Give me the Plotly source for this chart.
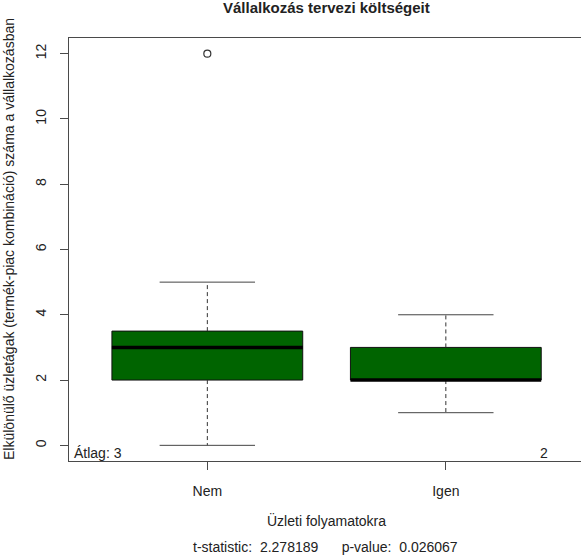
import plotly.graph_objects as go

# Box-plot summary statistics per group
groups = ["Nem", "Igen"]
positions = [1, 2]
q1 = [2, 2]
medians = [3, 2]
q3 = [3.5, 3]
lower_whisker = [0, 1]
upper_whisker = [5, 4]
outlier_pos = [1]
outlier_val = [12]
group_means = ["3", "2"]
y_ticks = [0, 2, 4, 6, 8, 10, 12]
t_stat = "2.278189"
p_value = "0.026067"

W, H = 581, 558
ML, MR, MT, MB = 69, 0, 38, 97
PW, PH = W - ML - MR, H - MT - MB
BOX_W = 0.8
CAP_HALF = BOX_W / 4
FONT = "Liberation Sans, Arial, sans-serif"
INK = "#222222"
LINE = "#4a4a4a"


def px_x(px):
    return (px - ML) / PW


def px_y(py):
    return (H - MB - py) / PH


fig = go.Figure()

# boxes (Q1..Q3)
fig.add_trace(go.Bar(
    x=positions, y=[b - a for a, b in zip(q1, q3)], base=q1, width=BOX_W,
    marker=dict(color="#006400", line=dict(color="#111111", width=1)),
    hoverinfo="skip", showlegend=False,
))

# dashed whiskers
wx, wy = [], []
for p, a, b, lo, hi in zip(positions, q1, q3, lower_whisker, upper_whisker):
    wx += [p, p, None, p, p, None]
    wy += [b, hi, None, a, lo, None]
fig.add_trace(go.Scatter(x=wx, y=wy, mode="lines",
                         line=dict(color="#333333", width=1, dash="4px,3px"),
                         hoverinfo="skip", showlegend=False))

# whisker caps
cx, cy = [], []
for p, lo, hi in zip(positions, lower_whisker, upper_whisker):
    cx += [p - CAP_HALF, p + CAP_HALF, None, p - CAP_HALF, p + CAP_HALF, None]
    cy += [hi, hi, None, lo, lo, None]
fig.add_trace(go.Scatter(x=cx, y=cy, mode="lines",
                         line=dict(color="#444444", width=1),
                         hoverinfo="skip", showlegend=False))

# medians
mx, my = [], []
for p, m in zip(positions, medians):
    mx += [p - BOX_W / 2, p + BOX_W / 2, None]
    my += [m, m, None]
fig.add_trace(go.Scatter(x=mx, y=my, mode="lines",
                         line=dict(color="#000000", width=3.5),
                         hoverinfo="skip", showlegend=False))

# outliers
fig.add_trace(go.Scatter(x=outlier_pos, y=outlier_val, mode="markers",
                         marker=dict(symbol="circle-open", size=7,
                                     color="#333333", line=dict(width=1.2)),
                         hoverinfo="skip", showlegend=False))

x_left = 0.42
x_right = x_left + PW / 238.5

fig.update_layout(
    width=W, height=H,
    margin=dict(l=ML, r=MR, t=MT, b=MB, pad=0),
    paper_bgcolor="white", plot_bgcolor="white",
    font=dict(family=FONT, size=14, color=INK),
    xaxis=dict(range=[x_left, x_right], tickmode="array", tickvals=positions,
               ticktext=groups, ticks="outside", ticklen=8, tickcolor=LINE,
               showline=True, linecolor=LINE, linewidth=1, mirror=True,
               showgrid=False, zeroline=False, ticklabelstandoff=9,
               tickfont=dict(size=14, color=INK)),
    yaxis=dict(range=[-0.48, 12.48], tickmode="array", tickvals=y_ticks,
               ticks="outside", ticklen=8, tickcolor=LINE, tickangle=-90,
               showline=True, linecolor=LINE, linewidth=1, mirror=False,
               showgrid=False, zeroline=False, ticklabelstandoff=8,
               tickfont=dict(size=14, color=INK)),
    showlegend=False,
)

annotations = [
    dict(text="<b>Vállalkozás tervezi költségeit</b>", x=px_x(326), y=px_y(8),
         xanchor="center", yanchor="middle", font=dict(size=15, color=INK)),
    dict(text="Elkülönülő üzletágak (termék-piac kombináció) száma a vállalkozásban",
         x=px_x(9), y=px_y(239), textangle=-90, xanchor="center",
         yanchor="middle", font=dict(size=14, color=INK)),
    dict(text="Üzleti folyamatokra", x=px_x(326), y=px_y(520),
         xanchor="center", yanchor="middle", font=dict(size=14, color=INK)),
    dict(text=f"t-statistic:\u00a0\u00a0{t_stat}\u00a0\u00a0\u00a0\u00a0\u00a0\u00a0p-value:\u00a0\u00a0{p_value}",
         x=px_x(325), y=px_y(547), xanchor="center", yanchor="middle",
         font=dict(size=14, color=INK)),
]
for a in annotations:
    a.update(xref="paper", yref="paper", showarrow=False)
    fig.add_annotation(**a)

# group means written along the bottom of the plot
fig.add_annotation(text="Átlag: " + group_means[0], x=x_left + 3 / 238.5, y=-0.25,
                   xref="x", yref="y", xanchor="left", yanchor="middle",
                   showarrow=False, font=dict(size=14, color=INK))
fig.add_annotation(text=group_means[1], x=2.413, y=-0.25, xref="x", yref="y",
                   xanchor="center", yanchor="middle", showarrow=False,
                   font=dict(size=14, color=INK))

fig.write_html("out.html", config={"displayModeBar": False})
